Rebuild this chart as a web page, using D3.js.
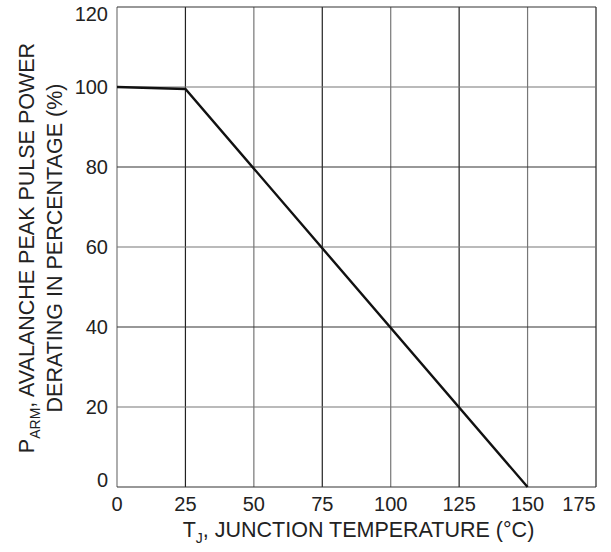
<!DOCTYPE html>
<html>
<head>
<meta charset="utf-8">
<script src="https://cdn.jsdelivr.net/npm/d3@7"></script>
<style>
  body { margin: 0; background: #fff; }
  text { font-family: "Liberation Sans", Arial, sans-serif; fill: #222; }
</style>
</head>
<body>
<script>
const width = 611, height = 552;
const margin = {top: 7, right: 15, bottom: 65, left: 117};

// derating curve
const tempC = [0, 25, 150];
const derating = [100, 99.5, 0];
const xTicks = [0, 25, 50, 75, 100, 125, 150, 175];
const yTicks = [0, 20, 40, 60, 80, 100, 120];

const svg = d3.select("body").append("svg").attr("width", width).attr("height", height);

const x = d3.scaleLinear().domain([0, 175]).range([margin.left, width - margin.right]);
const y = d3.scaleLinear().domain([0, 120]).range([height - margin.bottom, margin.top]);

// grid
svg.append("g").selectAll("line")
   .data(xTicks)
   .enter().append("line")
   .attr("x1", d => x(d)).attr("x2", d => x(d))
   .attr("y1", y(0)).attr("y2", y(120))
   .style("stroke", (d, i) => i % 2 ? "#222" : "#777")
   .style("stroke-width", 1.2);

svg.append("g").selectAll("line")
   .data(yTicks)
   .enter().append("line")
   .attr("x1", x(0)).attr("x2", x(175))
   .attr("y1", d => y(d)).attr("y2", d => y(d))
   .style("stroke", (d, i) => i % 2 ? "#777" : "#333")
   .style("stroke-width", 1.2);

// tick labels (end labels are kept inside the plot edges)
const tickSize = 20;
svg.append("g").selectAll("text")
   .data(xTicks)
   .enter().append("text")
   .attr("x", d => Math.min(x(d), x(175) - 17))
   .attr("y", y(0) + 24)
   .attr("text-anchor", "middle")
   .style("font-size", tickSize + "px")
   .text(d => d);

svg.append("g").selectAll("text")
   .data(yTicks)
   .enter().append("text")
   .attr("x", x(0) - 9)
   .attr("y", d => Math.min(Math.max(y(d), y(120) + 7), y(0) - 7) + 7)
   .attr("text-anchor", "end")
   .style("font-size", tickSize + "px")
   .text(d => d);

// curve
const line = d3.line().x(d => x(d[0])).y(d => y(d[1]));
svg.append("path")
   .datum(d3.zip(tempC, derating))
   .attr("d", line)
   .style("fill", "none")
   .style("stroke", "#111")
   .style("stroke-width", 2.4);

// x title
const titleSize = 21.5;
const xt = svg.append("text")
   .attr("x", (x(0) + x(175)) / 2 + 2)
   .attr("y", 537)
   .attr("text-anchor", "middle")
   .style("font-size", titleSize + "px");
xt.append("tspan").text("T");
xt.append("tspan").attr("dy", 6).style("font-size", "14px").text("J");
xt.append("tspan").attr("dy", -6).text(", JUNCTION TEMPERATURE (°C)");

// y title
const cy = 248;
const yt = svg.append("text")
   .attr("transform", `translate(33.5, ${cy}) rotate(-90)`)
   .attr("text-anchor", "middle")
   .style("font-size", titleSize + "px");
yt.append("tspan").text("P");
yt.append("tspan").attr("dy", 6).style("font-size", "14px").text("ARM");
yt.append("tspan").attr("dy", -6).text(", AVALANCHE PEAK PULSE POWER");

svg.append("text")
   .attr("transform", `translate(61.5, ${cy}) rotate(-90)`)
   .attr("text-anchor", "middle")
   .style("font-size", titleSize + "px")
   .text("DERATING IN PERCENTAGE (%)");
</script>
</body>
</html>
